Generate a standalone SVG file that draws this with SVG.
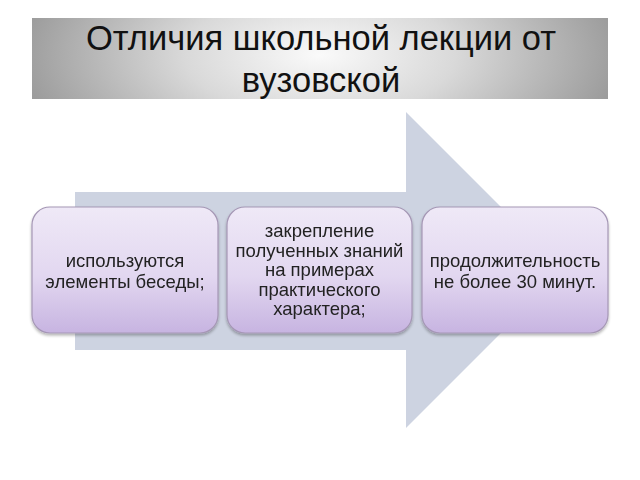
<svg xmlns="http://www.w3.org/2000/svg" width="640" height="480" viewBox="0 0 640 480">
  <defs>
    <radialGradient id="titleGrad" gradientUnits="userSpaceOnUse" cx="320" cy="55" r="300" gradientTransform="translate(0,55) scale(1,0.45) translate(0,-55)">
      <stop offset="0" stop-color="#fafafa"/>
      <stop offset="0.45" stop-color="#d9d9d9"/>
      <stop offset="1" stop-color="#9c9c9c"/>
    </radialGradient>
    <linearGradient id="boxGrad" x1="0" y1="0" x2="0" y2="1">
      <stop offset="0" stop-color="#efe9f7"/>
      <stop offset="0.55" stop-color="#e2d7f0"/>
      <stop offset="1" stop-color="#c7b4e1"/>
    </linearGradient>
    <filter id="shadow" x="-10%" y="-10%" width="120%" height="130%">
      <feGaussianBlur in="SourceAlpha" stdDeviation="1.5"/>
      <feOffset dx="0" dy="2" result="b"/>
      <feComponentTransfer><feFuncA type="linear" slope="0.3"/></feComponentTransfer>
      <feMerge><feMergeNode/><feMergeNode in="SourceGraphic"/></feMerge>
    </filter>
  </defs>
  <style>
    .box { fill: url(#boxGrad); stroke: #a597b5; stroke-width: 1.2; }
    .lbl { font-family: "Liberation Sans", Arial, sans-serif; font-size: 18.5px; fill: #222222; text-anchor: middle; }
    .title { font-family: "Liberation Sans", Arial, sans-serif; font-size: 34.5px; fill: #111111; text-anchor: middle; }
  </style>
  <rect width="640" height="480" fill="#ffffff"/>

  <g id="title">
    <rect x="32" y="18" width="576" height="81" fill="url(#titleGrad)"/>
    <text class="title" x="321" y="50">Отличия школьной лекции от</text>
    <text class="title" x="321" y="92">вузовской</text>
  </g>

  <g id="connectors">
    <path d="M75,192 L406,192 L406,112 L564,270 L406,428 L406,350 L75,350 Z" fill="#cdd3e1"/>
  </g>

  <g id="node1" filter="url(#shadow)">
    <rect class="box" x="32" y="207" width="186" height="126" rx="18"/>
    <text class="lbl" x="125" y="267">используются</text>
    <text class="lbl" x="125" y="288">элементы беседы;</text>
  </g>

  <g id="node2" filter="url(#shadow)">
    <rect class="box" x="227" y="207" width="185" height="126" rx="18"/>
    <text class="lbl" x="319.5" y="237">закрепление</text>
    <text class="lbl" x="319.5" y="256.5">полученных знаний</text>
    <text class="lbl" x="319.5" y="276">на примерах</text>
    <text class="lbl" x="319.5" y="295.5">практического</text>
    <text class="lbl" x="319.5" y="315">характера;</text>
  </g>

  <g id="node3" filter="url(#shadow)">
    <rect class="box" x="422" y="207" width="186" height="126" rx="18"/>
    <text class="lbl" x="515" y="267">продолжительность</text>
    <text class="lbl" x="515" y="288">не более 30 минут.</text>
  </g>
</svg>
